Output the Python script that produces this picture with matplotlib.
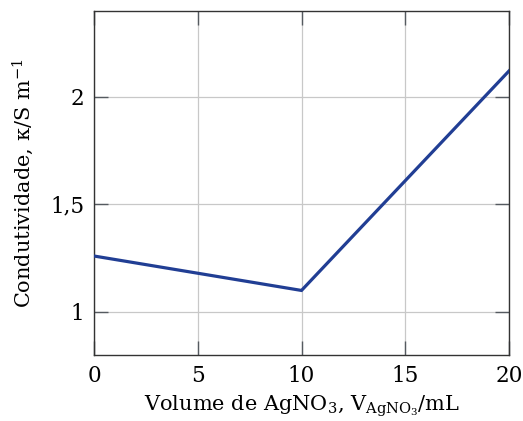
import matplotlib
matplotlib.use("Agg")
import matplotlib.pyplot as plt
from matplotlib.ticker import FuncFormatter

volume = [0, 10, 20]
kappa = [1.26, 1.10, 2.12]
xticks = [0, 5, 10, 15, 20]
yticks = [1, 1.5, 2]

plt.rcParams['font.family'] = ['DejaVu Serif']
plt.rcParams['mathtext.fontset'] = 'dejavuserif'

fig = plt.figure(figsize=(5.23, 4.21), dpi=100)
ax = fig.add_axes([94/523, 1-355/421, (509-94)/523, (355-10.7)/421])

ax.plot(volume, kappa, color='#213e94', lw=2.3, solid_joinstyle='miter', zorder=3)
ax.set_xlim(0, 20)
ax.set_ylim(0.8, 2.4)
ax.set_xticks(xticks)
ax.set_yticks(yticks)
ax.yaxis.set_major_formatter(FuncFormatter(lambda v, p: ('%g' % v).replace('.', ',')))
ax.grid(True, color='#c8c8c8', lw=0.9, zorder=0)
ax.tick_params(direction='in', length=10, width=1.0, color='#555a60', top=True, right=True,
               labelsize=15.5, pad=7)
for s in ax.spines.values():
    s.set_color('#333333')
    s.set_linewidth(1.0)

ax.set_xlabel(r'Volume de AgNO$_3$, V$_{\mathrm{AgNO_3}}$/mL', fontsize=15, labelpad=5)
ax.set_ylabel(r'Condutividade, κ/S m$^{-1}$', fontsize=15, labelpad=10)

fig.savefig('out.png', dpi=100)
